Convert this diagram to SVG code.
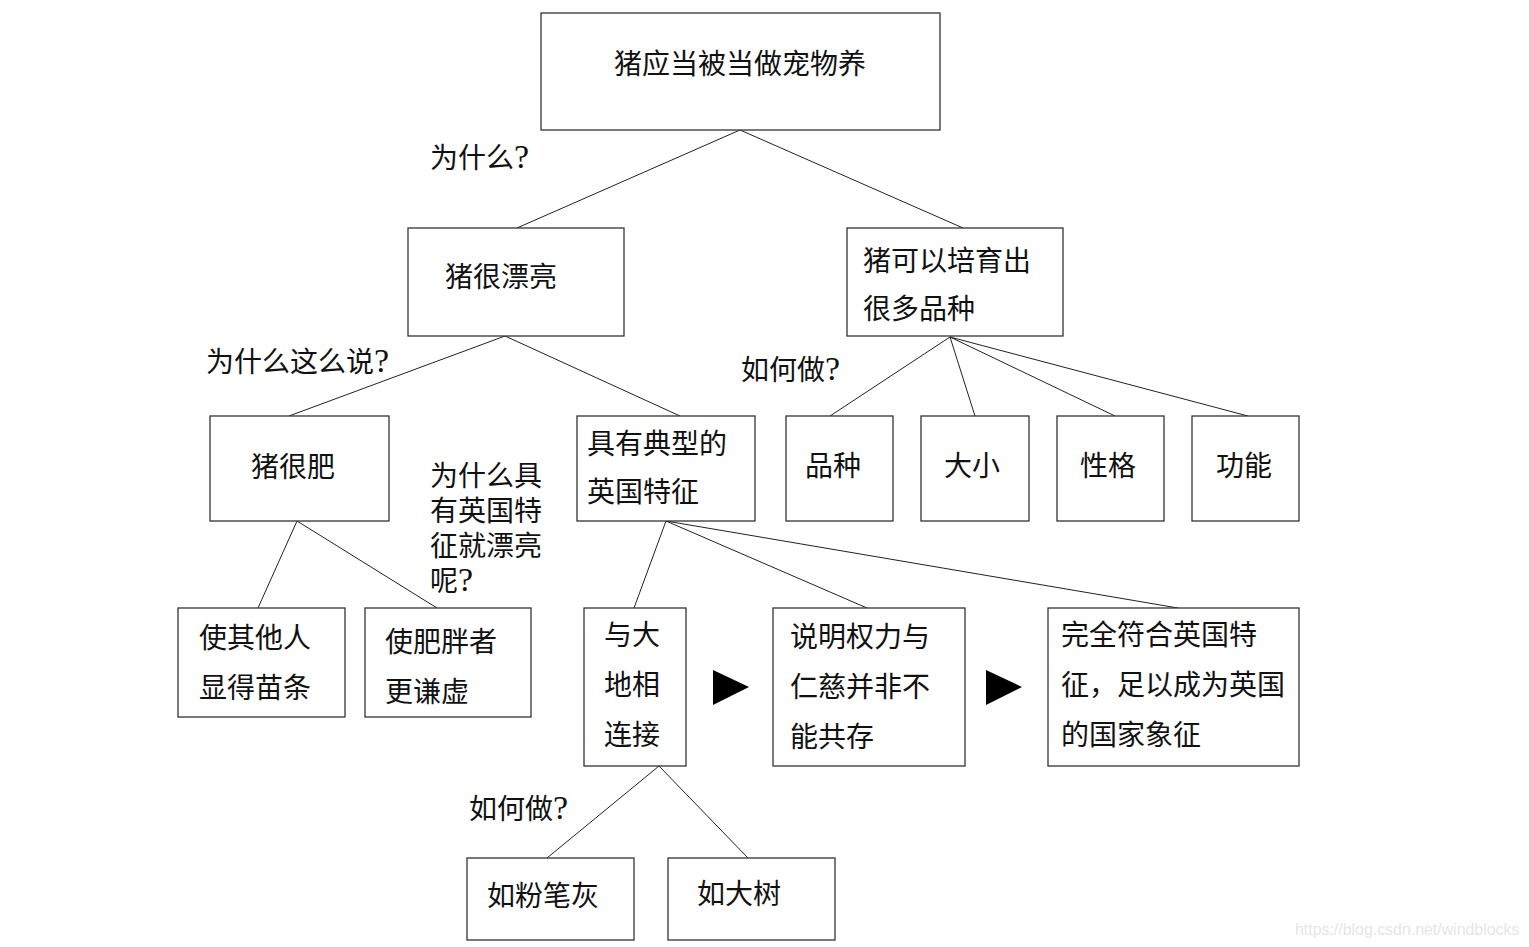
<svg xmlns="http://www.w3.org/2000/svg" width="1529" height="947" viewBox="0 0 1529 947">
<style>
.box{fill:#fff;stroke:#333;stroke-width:1.3}
.t{font-family:"Liberation Serif","Noto Sans CJK SC",serif;font-size:28px;fill:#111}
.q{font-size:34px}
.c{stroke:#222;stroke-width:1;fill:none}
.tri{fill:#000}
.wm{font-family:"Liberation Sans",Arial,sans-serif;font-size:15.9px;fill:#e6e6e6}
</style>
<rect width="1529" height="947" fill="#fff"/>
<g id="connectors">
<line class="c" x1="740" y1="130" x2="517" y2="228"/>
<line class="c" x1="740" y1="130" x2="963" y2="228"/>
<line class="c" x1="505" y1="336" x2="289" y2="416"/>
<line class="c" x1="505" y1="336" x2="680" y2="416"/>
<line class="c" x1="950" y1="337" x2="830" y2="416"/>
<line class="c" x1="950" y1="337" x2="975" y2="416"/>
<line class="c" x1="950" y1="337" x2="1115" y2="416"/>
<line class="c" x1="950" y1="337" x2="1248" y2="416"/>
<line class="c" x1="297" y1="521" x2="258" y2="608"/>
<line class="c" x1="297" y1="521" x2="437" y2="608"/>
<line class="c" x1="666" y1="521" x2="634" y2="608"/>
<line class="c" x1="666" y1="521" x2="867" y2="608"/>
<line class="c" x1="666" y1="521" x2="1178" y2="608"/>
<line class="c" x1="659" y1="766" x2="547" y2="858"/>
<line class="c" x1="659" y1="766" x2="748" y2="858"/>
<polygon class="tri" points="713,670 749,687 713,705"/>
<polygon class="tri" points="986,670 1022,687 986,705"/>
</g>
<g id="labels">
<text class="t" x="430" y="168">为什么<tspan class="q">?</tspan></text>
<text class="t" x="206" y="372">为什么这么说<tspan class="q">?</tspan></text>
<text class="t" x="741" y="380">如何做<tspan class="q">?</tspan></text>
<text class="t" x="430" y="486">为什么具</text>
<text class="t" x="430" y="521">有英国特</text>
<text class="t" x="430" y="556">征就漂亮</text>
<text class="t" x="430" y="591">呢<tspan class="q">?</tspan></text>
<text class="t" x="469" y="819">如何做<tspan class="q">?</tspan></text>
</g>
<g id="root"><rect class="box" x="541" y="13" width="399" height="117"/><text class="t" x="740" y="74" text-anchor="middle">猪应当被当做宠物养</text></g>
<g id="pretty"><rect class="box" x="408" y="228" width="216" height="108"/><text class="t" x="445" y="287">猪很漂亮</text></g>
<g id="breeds"><rect class="box" x="847" y="228" width="216" height="108"/><text class="t" x="863" y="271">猪可以培育出</text><text class="t" x="863" y="319">很多品种</text></g>
<g id="fat"><rect class="box" x="210" y="416" width="179" height="105"/><text class="t" x="293" y="477" text-anchor="middle">猪很肥</text></g>
<g id="british"><rect class="box" x="577" y="416" width="178" height="105"/><text class="t" x="587" y="454">具有典型的</text><text class="t" x="587" y="502">英国特征</text></g>
<g id="variety"><rect class="box" x="786" y="416" width="107" height="105"/><text class="t" x="833" y="476" text-anchor="middle">品种</text></g>
<g id="size"><rect class="box" x="921" y="416" width="108" height="105"/><text class="t" x="972" y="476" text-anchor="middle">大小</text></g>
<g id="temper"><rect class="box" x="1057" y="416" width="107" height="105"/><text class="t" x="1108" y="476" text-anchor="middle">性格</text></g>
<g id="function"><rect class="box" x="1192" y="416" width="107" height="105"/><text class="t" x="1244" y="476" text-anchor="middle">功能</text></g>
<g id="slim"><rect class="box" x="178" y="608" width="167" height="109"/><text class="t" x="199" y="648">使其他人</text><text class="t" x="199" y="698">显得苗条</text></g>
<g id="humble"><rect class="box" x="365" y="608" width="166" height="109"/><text class="t" x="385" y="652">使肥胖者</text><text class="t" x="385" y="702">更谦虚</text></g>
<g id="earth"><rect class="box" x="584" y="608" width="102" height="158"/><text class="t" x="604" y="645">与大</text><text class="t" x="604" y="695">地相</text><text class="t" x="604" y="745">连接</text></g>
<g id="power"><rect class="box" x="773" y="608" width="192" height="158"/><text class="t" x="790" y="647">说明权力与</text><text class="t" x="790" y="697">仁慈并非不</text><text class="t" x="790" y="747">能共存</text></g>
<g id="symbol"><rect class="box" x="1048" y="608" width="251" height="158"/><text class="t" x="1061" y="645">完全符合英国特</text><text class="t" x="1061" y="695">征，足以成为英国</text><text class="t" x="1061" y="745">的国家象征</text></g>
<g id="chalk"><rect class="box" x="467" y="858" width="167" height="82"/><text class="t" x="487" y="906">如粉笔灰</text></g>
<g id="tree"><rect class="box" x="668" y="858" width="167" height="82"/><text class="t" x="697" y="904">如大树</text></g>
<text class="wm" x="1295" y="935">https://blog.csdn.net/windblocks</text>
</svg>
